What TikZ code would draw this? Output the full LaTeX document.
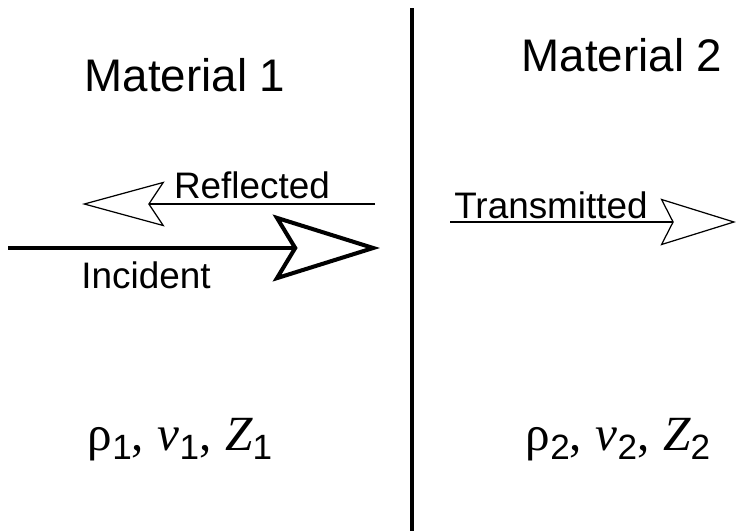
\documentclass[tikz,border=0pt]{standalone}
\usepackage{fontspec}
\setmainfont{Liberation Sans}
\newfontfamily\timesf{Liberation Serif}
\usetikzlibrary{arrows.meta}

\newcommand{\lowsub}[1]{\raisebox{-0.35ex}{\fontsize{20}{20}\selectfont #1}}
\newcommand{\matprops}[1]{{\timesf ρ}\lowsub{#1}{\timesf ,} {\timesf\itshape v}\lowsub{#1}{\timesf ,} {\timesf\itshape Z}\lowsub{#1}}

\begin{document}
\begin{tikzpicture}[
    x=0.02cm, y=-0.02cm,
    title/.style={font=\fontsize{26}{30}\selectfont},
    wavelabel/.style={font=\fontsize{21}{25}\selectfont, inner sep=0pt},
    props/.style={font=\fontsize{28}{32}\selectfont},
    boundary/.style={line width=2.8pt},
    incray/.style={line width=2.3pt, -{Stealth[open, length=61pt, width=38pt, inset=11.4pt]}},
    reflray/.style={line width=0.7pt, -{Stealth[open, length=47pt, width=25.6pt, inset=8.5pt]}},
    transray/.style={line width=0.7pt, -{Stealth[open, length=43pt, width=26.7pt, inset=6.8pt]}}
]
\useasboundingbox (0,0) rectangle (738,531);

% interface
\coordinate (top) at (412,8);
\coordinate (bot) at (412,531);
\draw[boundary] (top) -- (bot);

\node[title] (mat1) at (185,75) {Material 1};
\node[title] (mat2) at (622,55) {Material 2};

% waves
\coordinate (refstart) at (375,204);
\coordinate (refend) at (82,204);
\coordinate (incstart) at (8,248);
\coordinate (incend) at (380,248);
\coordinate (transstart) at (450,222);
\coordinate (transend) at (736,222);
\draw[reflray] (refstart) -- (refend);
\draw[incray] (incstart) -- (incend);
\draw[transray] (transstart) -- (transend);

\node[wavelabel] (refl) at (252,185) {Reflected};
\node[wavelabel] (inc) at (146,275) {Incident};
\node[wavelabel] (trans) at (551,205) {Transmitted};

\node[props] (p1) at (180,440) {\matprops{1}};
\node[props] (p2) at (618,440) {\matprops{2}};
\end{tikzpicture}
\end{document}
